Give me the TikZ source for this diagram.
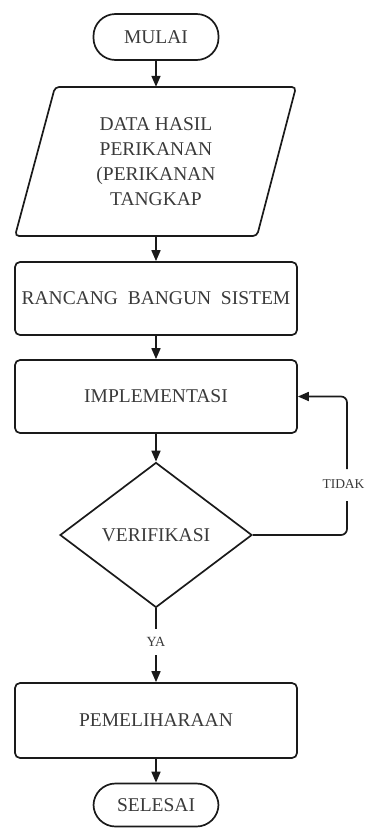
\documentclass[tikz,border=0pt]{standalone}
\usepackage{fontspec}
\setmainfont{Liberation Serif}
\usetikzlibrary{arrows.meta,shapes.geometric}
\definecolor{txt}{HTML}{3A3A3A}
\definecolor{ln}{HTML}{1A1A1A}
\begin{document}
\begin{tikzpicture}[x=1pt,y=-1pt,
  line/.style={draw=ln, line width=1.7pt},
  arr/.style={line, -{Triangle[length=11pt,width=9pt]}},
  big/.style={text=txt, font=\fontsize{19.5}{25}\selectfont},
  term/.style={line, big, rounded corners=22pt, minimum width=125pt, minimum height=46pt, inner sep=0pt},
  procbox/.style={line, big, rounded corners=5pt, minimum width=282pt, minimum height=73pt, inner sep=0pt},
  lbl/.style={text=txt, font=\fontsize{13.5}{15}\selectfont, inner sep=1pt}
]
\useasboundingbox (0,0) rectangle (366,828);
\node[term] (mulai) at (156,37) {MULAI};
% parallelogram
\draw[line, rounded corners=4pt] (55,87) -- (296,87) -- (257,236) -- (15,236) -- cycle;
\node[big, minimum width=10pt, minimum height=149pt, inner sep=0pt, align=center] (par) at (156,161.5)
  {DATA HASIL\\PERIKANAN\\(PERIKANAN\\TANGKAP};
\node[procbox] (rancang) at (156,298.5) {RANCANG\ \ BANGUN\ \ SISTEM};
\node[procbox] (impl) at (156,396.5) {IMPLEMENTASI};
\node[line, big, shape=diamond, aspect=1.32, minimum width=192pt, minimum height=145pt, inner sep=0pt] (ver) at (156,535) {VERIFIKASI};
\node[procbox, minimum height=75pt] (pem) at (156,720.5) {PEMELIHARAAN};
\node[term, minimum height=43pt] (selesai) at (156,805) {SELESAI};
\node[lbl] (tidak) at (343.5,484) {TIDAK};
\node[lbl, font=\fontsize{14}{16}\selectfont] (ya) at (156,642) {YA};
\coordinate (t1) at (347,501);
\coordinate (t2) at (347,469);
\coordinate (y1) at (156,629);
\coordinate (y2) at (156,655);

\draw[arr] (mulai.south) -- (par.north);
\draw[arr] (par.south) -- (rancang.north);
\draw[arr] (rancang.south) -- (impl.north);
\draw[arr] (impl.south) -- (ver.north);
\draw[line] (ver.south) -- (y1);
\draw[arr] (y2) -- (pem.north);
\draw[arr] (pem.south) -- (selesai.north);
\draw[line, rounded corners=6pt] (ver.east) -- (ver.east -| t1) -- (t1);
\draw[arr, rounded corners=6pt] (t2) -- (t2 |- impl.east) -- (impl.east);
\end{tikzpicture}
\end{document}
